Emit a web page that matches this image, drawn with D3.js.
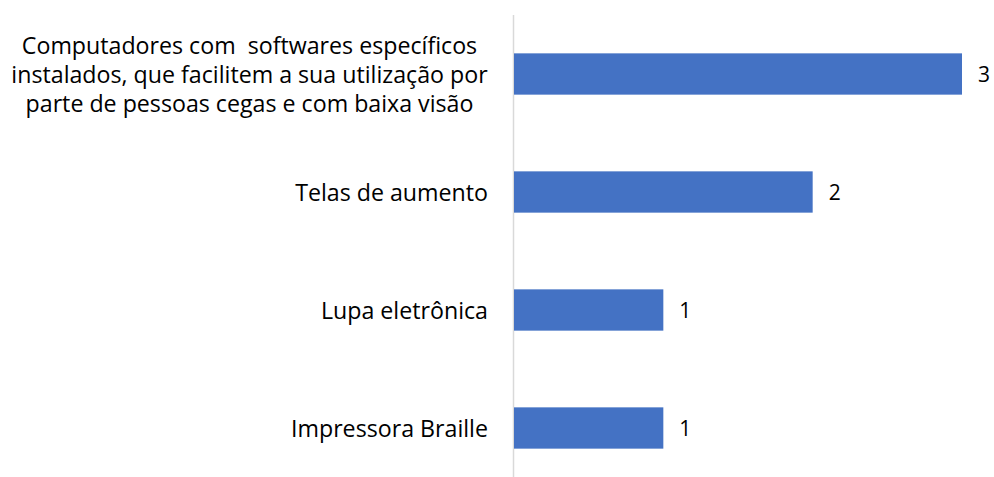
<!DOCTYPE html>
<html>
  <head>
    <script src="https://cdnjs.cloudflare.com/ajax/libs/d3/7.8.5/d3.min.js"></script>
    <style type="text/css">
      body { margin: 0; padding: 0; background: #fff; }
      text { font-family: "Open Sans", Lato, sans-serif; fill: #000; white-space: pre; }
    </style>
  </head>
  <body>
    <div id="chart"></div>
    <script type="text/javascript">
    const categories = [
      ["Computadores com  softwares específicos", "instalados, que facilitem a sua utilização por", "parte de pessoas cegas e com baixa visão"],
      ["Telas de aumento"],
      ["Lupa eletrônica"],
      ["Impressora Braille"]
    ];
    const values = [3, 2, 1, 1];

    const width = 994, height = 477;
    const svg = d3.select('#chart').append('svg')
      .attr('width', width)
      .attr('height', height);

    const x = d3.scaleLinear().domain([0, 3]).range([514, 962]);
    const y = d3.scaleBand()
      .domain(d3.range(categories.length))
      .range([15, 487])
      .paddingInner(0.65)
      .paddingOuter(0.325);

    // vertical axis line
    svg.append('line')
      .attr('x1', x(0) - 0.5).attr('x2', x(0) - 0.5)
      .attr('y1', 15).attr('y2', height)
      .attr('stroke', '#d9d9d9')
      .attr('stroke-width', 1.5);

    svg.selectAll('.bar')
      .data(values)
      .enter()
      .append('rect')
      .attr('class', 'bar')
      .attr('x', x(0))
      .attr('y', (d, i) => y(i))
      .attr('width', d => x(d) - x(0))
      .attr('height', y.bandwidth())
      .attr('fill', '#4472c4');

    svg.selectAll('.value')
      .data(values)
      .enter()
      .append('text')
      .attr('class', 'value')
      .attr('x', d => x(d) + 16)
      .attr('y', (d, i) => y(i) + y.bandwidth() / 2)
      .attr('dominant-baseline', 'central')
      .attr('font-size', 21)
      .text(d => d);

    // category labels, multi-line ones centred
    categories.forEach((lines, i) => {
      const cy = y(i) + y.bandwidth() / 2;
      const lh = 29;
      const t = svg.append('text')
        .attr('font-size', 23.2)
        .attr('text-anchor', lines.length > 1 ? 'middle' : 'end');
      lines.forEach((l, j) => {
        t.append('tspan')
          .attr('x', lines.length > 1 ? 249.5 : 488)
          .attr('y', cy + (j - (lines.length - 1) / 2) * lh)
          .attr('dominant-baseline', 'central')
          .text(l);
      });
    });
    </script>
  </body>
</html>
